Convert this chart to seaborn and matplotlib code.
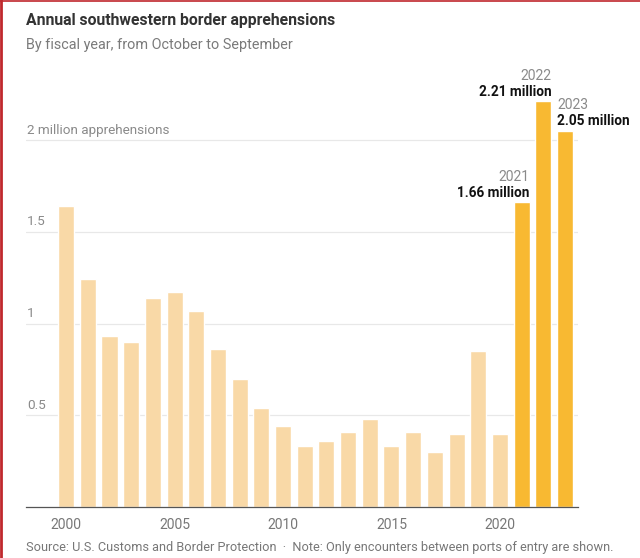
import matplotlib.pyplot as plt
import numpy as np
import pandas as pd
import seaborn as sns
from matplotlib.lines import Line2D

years = list(range(2000, 2024))
apprehensions = [
    1.64, 1.24, 0.93, 0.90, 1.14, 1.17, 1.07, 0.86, 0.70, 0.54, 0.44, 0.33,
    0.36, 0.41, 0.48, 0.33, 0.41, 0.30, 0.40, 0.85, 0.40, 1.66, 2.21, 2.05,
]
highlight_years = [2021, 2022, 2023]
value_labels = ["1.66 million", "2.21 million", "2.05 million"]
grid_values = [0.5, 1, 1.5, 2]
grid_labels = ["0.5", "1", "1.5", "2 million apprehensions"]
tick_years = [2000, 2005, 2010, 2015, 2020]

LIGHT = "#f9d9a7"
GOLD = "#f8b932"
FONT = "Roboto"

df = pd.DataFrame({"year": years, "value": apprehensions})
df["group"] = np.where(df["year"].isin(highlight_years), "recent", "past")

sns.set_style("white")
plt.rcParams["font.family"] = [FONT, "DejaVu Sans"]

fig = plt.figure(figsize=(6.4, 5.58), dpi=100)
ax = fig.add_axes([26 / 640, 51 / 558, 552 / 640, 447 / 558])

sns.barplot(
    data=df,
    x="year",
    y="value",
    hue="group",
    palette={"past": LIGHT, "recent": GOLD},
    native_scale=True,
    dodge=False,
    width=0.74,
    saturation=1,
    legend=False,
    ax=ax,
    zorder=2,
)

ax.set_xlim(1998.15, 2023.6)
ax.set_ylim(0, 2.436)

# horizontal guides with their labels sitting on top
for val, lab in zip(grid_values, grid_labels):
    ax.axhline(val, color="#e8e8e8", lw=0.9, zorder=0)
    ax.text(1998.2, val + 0.018, lab, color="#8a8a8a", fontsize=9.7,
            ha="left", va="bottom")

ax.set_yticks([])
ax.set_xticks(tick_years)
ax.set_xticklabels([str(y) for y in tick_years], color="#777777", fontsize=10)
ax.tick_params(axis="x", length=4, width=0.8, color="#555555", pad=4)
ax.set_xlabel("")
ax.set_ylabel("")
sns.despine(ax=ax, left=True, top=True, right=True)
ax.spines["bottom"].set_color("#555555")
ax.spines["bottom"].set_linewidth(0.9)

# callouts for the last three years
for yr, lab in zip(highlight_years, value_labels):
    v = df.loc[df["year"] == yr, "value"].iloc[0]
    if yr == 2023:
        xpos, ha = yr - 0.37, "left"
    else:
        xpos, ha = yr + 0.37, "right"
    ax.annotate(lab, (xpos, v), xytext=(0, 2), textcoords="offset points",
                ha=ha, va="bottom", fontsize=9.8, fontweight="bold",
                color="#121212")
    ax.annotate(str(yr), (xpos, v), xytext=(0, 13.5), textcoords="offset points",
                ha=ha, va="bottom", fontsize=10, color="#8a8a8a")

fig.text(26 / 640, 1 - 20 / 558, "Annual southwestern border apprehensions",
         fontsize=11.3, fontweight="bold", color="#333333", va="center")
fig.text(26 / 640, 1 - 45 / 558, "By fiscal year, from October to September",
         fontsize=10.4, color="#7a7a7a", va="center")
fig.text(26 / 640, 1 - 547 / 558,
         "Source: U.S. Customs and Border Protection  \u00b7  "
         "Note: Only encounters between ports of entry are shown.",
         fontsize=9.2, color="#777777", va="center")

# red frame edges from the screenshot
fig.add_artist(Line2D([0.002, 0.002], [0, 1], transform=fig.transFigure,
                      color="#c0282d", lw=2))
fig.add_artist(Line2D([0, 1], [0.999, 0.999], transform=fig.transFigure,
                      color="#c0282d", lw=1.2))

fig.savefig("out.png", dpi=100)
